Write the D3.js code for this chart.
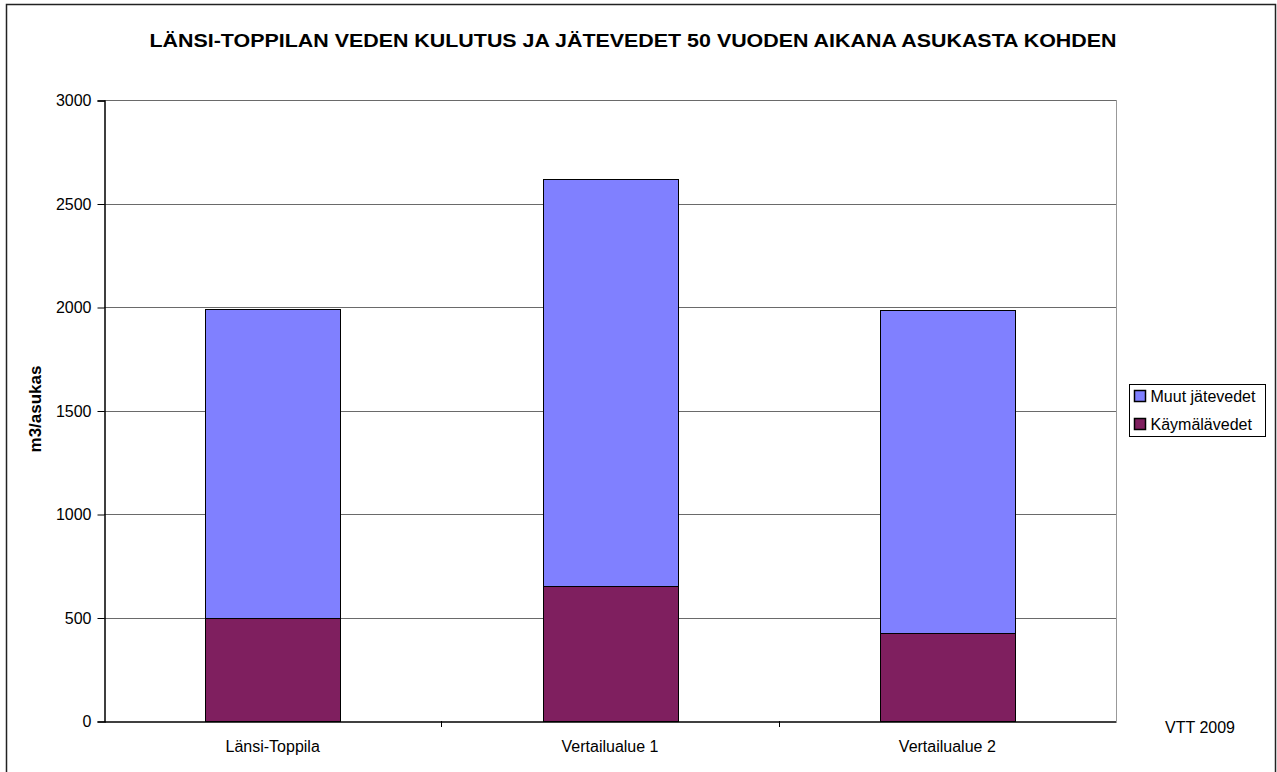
<!DOCTYPE html>
<html>
<head>
<meta charset="utf-8">
<script src="https://cdn.jsdelivr.net/npm/d3@7"></script>
<style>
    body { margin: 0; background: #fff; }
    svg text { font-family: Arial, 'Liberation Sans', sans-serif; fill: #000; }
</style>
</head>
<body>
<div id="chart"></div>
<script>
// values
const categories = ['Länsi-Toppila', 'Vertailualue 1', 'Vertailualue 2'];
const kaymalavedet = [497, 653, 427];
const muutJatevedet = [1493, 1967, 1558];
const seriesNames = ['Käymälävedet', 'Muut jätevedet'];
const seriesColors = ['#7f1f5f', '#8080ff'];
const yTicks = [0, 500, 1000, 1500, 2000, 2500, 3000];

const width = 1277;
const height = 772;
const plot = {left: 104, right: 1116, top: 100, bottom: 721};

const data = categories.map((c, i) => ({
    category: c,
    'Käymälävedet': kaymalavedet[i],
    'Muut jätevedet': muutJatevedet[i]
}));

const svg = d3.select('#chart')
    .append('svg')
        .attr('width', width)
        .attr('height', height);

// outer frame
svg.append('rect')
    .attr('x', 6.5)
    .attr('y', 4.5)
    .attr('width', 1269)
    .attr('height', 820)
    .attr('fill', 'none')
    .attr('stroke', '#222')
    .attr('stroke-width', 1.5);

const x = d3.scaleBand()
    .domain(categories)
    .range([plot.left, plot.right]);

const y = d3.scaleLinear()
    .domain([0, 3000])
    .range([plot.bottom, plot.top]);

// gridlines
svg.append('g')
        .attr('class', 'grid')
    .selectAll('line')
    .data(yTicks.filter(d => d > 0))
    .join('line')
        .attr('x1', plot.left)
        .attr('x2', plot.right)
        .attr('y1', d => Math.round(y(d)) + 0.5)
        .attr('y2', d => Math.round(y(d)) + 0.5)
        .attr('stroke', '#6a6a6a')
        .attr('stroke-width', 1);

// right edge of plot area
svg.append('line')
    .attr('x1', plot.right + 0.5)
    .attr('x2', plot.right + 0.5)
    .attr('y1', plot.top)
    .attr('y2', plot.bottom)
    .attr('stroke', '#999');

// stacked bars
const stack = d3.stack().keys(seriesNames);
const stacked = stack(data);
const barWidth = x.bandwidth() * 0.4;

svg.append('g')
        .attr('class', 'bars')
    .selectAll('g')
    .data(stacked)
    .join('g')
        .attr('fill', (d, i) => seriesColors[i])
    .selectAll('rect')
    .data(d => d)
    .join('rect')
        .attr('x', d => Math.round(x(d.data.category) + (x.bandwidth() - barWidth) / 2) + 0.5)
        .attr('y', d => Math.round(y(d[1])) + 0.5)
        .attr('width', Math.round(barWidth))
        .attr('height', d => Math.round(y(d[0])) - Math.round(y(d[1])))
        .attr('stroke', '#000')
        .attr('stroke-width', 1);

// y axis
const yAxis = svg.append('g')
    .attr('transform', `translate(${plot.left + 0.5}, 0.5)`)
    .call(d3.axisLeft(y).tickValues(yTicks).tickFormat(d3.format('d')).tickSize(7).tickPadding(6));
yAxis.select('.domain').attr('stroke', '#000').attr('stroke-width', 1.5);
yAxis.selectAll('.tick line').attr('stroke', '#000');
yAxis.selectAll('.tick text')
    .style('font-size', '16px')
    .attr('font-family', null);

// x axis
const xAxis = svg.append('g')
    .attr('transform', `translate(0, ${plot.bottom + 0.5})`)
    .call(d3.axisBottom(x).tickSize(0).tickPadding(19));
xAxis.select('.domain').attr('stroke', '#000').attr('stroke-width', 1.5);
xAxis.selectAll('.tick text')
    .style('font-size', '16px')
    .attr('font-family', null);

// category separators
svg.append('g')
    .selectAll('line')
    .data(categories.slice(1))
    .join('line')
        .attr('x1', d => Math.round(x(d)) + 0.5)
        .attr('x2', d => Math.round(x(d)) + 0.5)
        .attr('y1', plot.bottom)
        .attr('y2', plot.bottom + 6)
        .attr('stroke', '#000');

// title
svg.append('text')
    .attr('x', 633)
    .attr('y', 47)
    .attr('text-anchor', 'middle')
    .attr('textLength', 967)
    .attr('lengthAdjust', 'spacingAndGlyphs')
    .style('font-size', '19px')
    .style('font-weight', 700)
    .text('LÄNSI-TOPPILAN VEDEN KULUTUS JA JÄTEVEDET 50 VUODEN AIKANA ASUKASTA KOHDEN');

// y axis title
svg.append('text')
    .attr('transform', 'translate(41, 409) rotate(-90)')
    .attr('text-anchor', 'middle')
    .style('font-size', '17px')
    .style('font-weight', 700)
    .text('m3/asukas');

// legend
const legend = svg.append('g')
    .attr('transform', 'translate(1129.5, 384.5)');
legend.append('rect')
    .attr('width', 136)
    .attr('height', 52)
    .attr('fill', '#fff')
    .attr('stroke', '#000');

const legendItems = legend.selectAll('.legend-item')
    .data(seriesNames.slice().reverse())
    .join('g')
        .attr('class', 'legend-item')
        .attr('transform', (d, i) => `translate(4, ${11 + i * 28})`);
legendItems.append('rect')
    .attr('x', 1)
    .attr('y', -5)
    .attr('width', 11)
    .attr('height', 11)
    .attr('fill', d => seriesColors[seriesNames.indexOf(d)])
    .attr('stroke', '#000')
    .attr('stroke-width', 1.5);
legendItems.append('text')
    .attr('x', 17)
    .attr('y', 6)
    .style('font-size', '16px')
    .text(d => d);

// source note
svg.append('text')
    .attr('x', 1200)
    .attr('y', 733)
    .attr('text-anchor', 'middle')
    .style('font-size', '16px')
    .text('VTT 2009');
</script>
</body>
</html>
